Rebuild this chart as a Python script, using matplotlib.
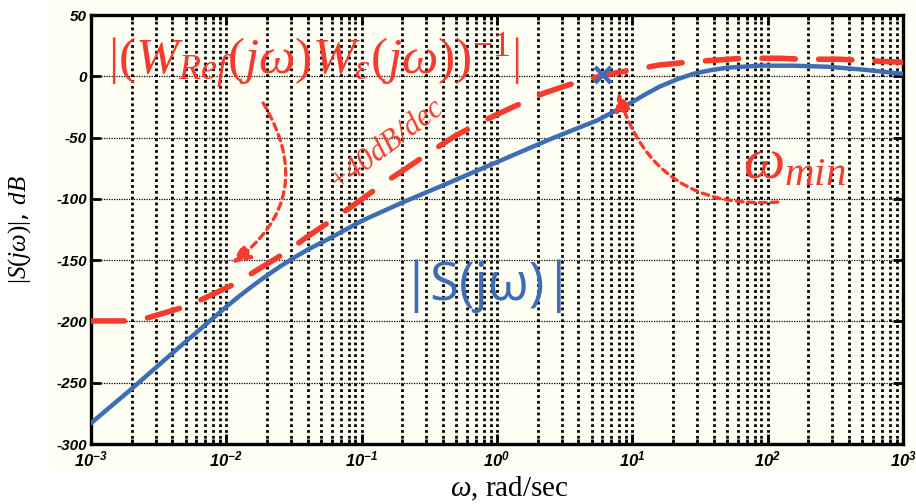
import numpy as np
import matplotlib.pyplot as plt
from matplotlib.patches import Rectangle

plt.rcParams['mathtext.fontset'] = 'custom'
plt.rcParams['mathtext.rm'] = 'Liberation Serif'
plt.rcParams['mathtext.it'] = 'Liberation Serif:italic'
plt.rcParams['mathtext.bf'] = 'Liberation Sans:bold:italic'

# |S(jw)|: log10(omega) and dB
s_logw = [-3.0, -2.7, -2.4, -2.2, -2.0, -1.9, -1.8, -1.7, -1.6, -1.5, -1.4, -1.25, -1.1,
          -1.0, -0.7, -0.4, 0.0, 0.4, 0.74, 1.0, 1.1, 1.2, 1.33, 1.45, 1.58, 1.7, 1.95,
          2.2, 2.44, 2.7, 3.0]
s_db = [-283, -255, -226, -207, -188, -179, -170.5, -162.5, -155, -148, -141.5, -133, -124,
        -118, -103, -89, -70, -51, -36, -21, -14.5, -8.5, -2.5, 2, 5, 7, 8.7,
        8.6, 7.8, 5.5, 2]

# |(W_Ref W_eps)^-1| (dashed red)
w_logw = [-3.0, -2.75, -2.59, -2.32, -2.16, -1.92, -1.78, -1.55, -1.41, -1.17, -1.04,
          -0.82, -0.67, -0.45, -0.3, -0.06, 0.1, 0.34, 0.53, 0.79, 0.93, 1.2, 1.45,
          1.82, 2.09, 2.26, 2.53, 2.7, 3.0]
w_db = [-199.6, -199.6, -197.4, -188.5, -181, -168.4, -158.6, -143, -131.5, -113.6, -103.6,
        -86, -75, -58.7, -48, -34.3, -26, -14, -7, 1, 3.8, 9.2, 11.9,
        14.7, 14.7, 13.9, 13.9, 12.9, 11.4]

omega_min = 6.1
omega_min_db = 1.0

yticks = [-300, -250, -200, -150, -100, -50, 0, 50]
xdecades = [-3, -2, -1, 0, 1, 2, 3]

blue = '#3d6db4'
red = '#f53b2d'
cream = '#fffff3'

fig = plt.figure(figsize=(9.16, 5.04), dpi=100)
fig.patches.append(Rectangle((50 / 916, 34 / 504), 866 / 916, 470 / 504,
                             transform=fig.transFigure, color=cream, zorder=-10))
ax = fig.add_axes([91 / 916, 60 / 504, 812 / 916, 429 / 504])
ax.set_facecolor(cream)

ax.semilogx(10 ** np.array(s_logw), s_db, color=blue, lw=3.2, zorder=3)
ax.semilogx(10 ** np.array(w_logw), w_db, color=red, lw=4, zorder=4,
            dashes=(6, 4.2), dash_capstyle='round')
ax.plot(omega_min, omega_min_db, marker='x', ms=12, mew=3.2, color=blue, zorder=5)

ax.set_xlim(1e-3, 1e3)
ax.set_ylim(-300, 50)

ax.set_yticks(yticks)
ax.set_yticklabels([str(v) for v in yticks], fontfamily='Liberation Sans',
                   fontweight='bold', fontstyle='italic', fontsize=11)
ax.set_xticks([10.0 ** d for d in xdecades])
ax.set_xticklabels([r'$\mathbf{10^{%d}}$' % d for d in xdecades], fontsize=12)

ax.grid(True, which='both', axis='x', color='k', linestyle=(0, (1, 1.1)), linewidth=2)
ax.grid(True, which='major', axis='y', color='k', linestyle=(0, (1, 1)), linewidth=0.9)
ax.tick_params(which='both', direction='in', top=True, right=True, width=2)
ax.tick_params(which='major', length=7, pad=3)
ax.tick_params(axis='x', which='major', pad=5)
ax.tick_params(which='minor', length=3.5)
for sp in ax.spines.values():
    sp.set_linewidth(2.4)

# annotations
ax.text(1.34e-3, 11.7, r'$|(W_{Ref}(j\omega)W_{\varepsilon}(j\omega))^{-1}|$',
        color=red, fontsize=37, ha='left', va='center')
ax.text(0.151, -55, '+40dB/dec', color=red, fontsize=22, rotation=37,
        fontfamily='Liberation Serif', fontstyle='italic', ha='center', va='center')
ax.text(66, -70, r'$\omega_{min}$', color=red, fontsize=42, ha='left', va='center')
ax.text(0.195, -171, '|S(jω)|', color=blue, fontsize=38, fontfamily='Open Sans',
        ha='left', va='center')

ax.annotate('', xy=(0.011, -152.6), xytext=(0.0187, -21.8),
            arrowprops=dict(arrowstyle='-|>,head_length=1.1,head_width=0.5',
                            connectionstyle='arc3,rad=-0.45', color=red, lw=2.4,
                            linestyle=(0, (2, 1.5)), shrinkA=0, shrinkB=0))
ax.annotate('', xy=(7.83, -12.8), xytext=(119, -102.6),
            arrowprops=dict(arrowstyle='-|>,head_length=1.1,head_width=0.5',
                            connectionstyle='arc3,rad=-0.4', color=red, lw=2.4,
                            linestyle=(0, (2, 1.5)), shrinkA=0, shrinkB=0))

ax.set_ylabel(r'$|S(j\omega)|$, $dB$', fontsize=18)
ax.yaxis.set_label_coords(-0.072, 0.5)
fig.text(509 / 916, 1 - 489 / 504, r'$\omega$, rad/sec', fontsize=21,
         fontfamily='Liberation Serif', ha='center', va='center')

fig.savefig('out.png', dpi=100)
